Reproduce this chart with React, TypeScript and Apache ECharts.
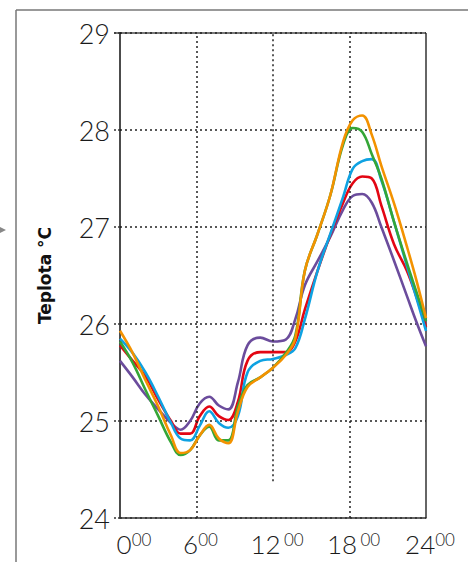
import { useEffect, useRef } from "react";
import * as echarts from "echarts";

// Hodina dne (0–24) a průběh teploty pro jednotlivá čidla
const hours = [0, 1, 2, 3, 4, 4.75, 5.5, 6.25, 7, 7.75, 8.5, 9.25, 10, 11, 12, 13, 13.75, 14.5, 15.5, 16.5, 17.5, 18.25, 19, 19.75, 20.5, 21.5, 22.5, 23.25, 24];

const sensorPurple = [25.62, 25.45, 25.27, 25.12, 24.98, 24.91, 25.0, 25.18, 25.25, 25.16, 25.12, 25.4, 25.78, 25.86, 25.82, 25.84, 26.05, 26.4, 26.65, 26.9, 27.18, 27.32, 27.34, 27.25, 27.0, 26.65, 26.29, 26.02, 25.77];
const sensorRed = [25.78, 25.62, 25.46, 25.22, 25.0, 24.87, 24.87, 25.05, 25.15, 25.05, 25.01, 25.2, 25.62, 25.71, 25.71, 25.71, 25.82, 26.15, 26.55, 26.92, 27.25, 27.45, 27.52, 27.5, 27.22, 26.82, 26.55, 26.28, 25.97];
const sensorBlue = [25.85, 25.7, 25.5, 25.25, 24.98, 24.82, 24.8, 24.95, 25.1, 24.98, 24.93, 25.05, 25.5, 25.62, 25.64, 25.68, 25.75, 26.05, 26.55, 26.93, 27.31, 27.6, 27.68, 27.7, 27.48, 27.05, 26.6, 26.27, 25.93];
const sensorGreen = [25.82, 25.6, 25.32, 25.05, 24.78, 24.65, 24.7, 24.85, 24.94, 24.8, 24.8, 25.15, 25.37, 25.45, 25.55, 25.7, 25.88, 26.55, 26.93, 27.33, 27.85, 28.02, 27.98, 27.75, 27.5, 27.05, 26.63, 26.33, 26.03];
const sensorOrange = [25.93, 25.7, 25.42, 25.15, 24.85, 24.67, 24.7, 24.85, 24.96, 24.82, 24.77, 25.1, 25.35, 25.45, 25.55, 25.68, 25.85, 26.55, 26.93, 27.33, 27.88, 28.1, 28.15, 27.95, 27.63, 27.24, 26.8, 26.45, 26.06];

const yMin = 24;
const yMax = 29;
const hourTicks = [0, 6, 12, 18, 24];

// Svislé tečkované čáry: [hodina, spodní konec]
const verticalGuides: [number, number][] = [
  [6, 24],
  [12, 24.38],
  [18, 24],
];

const seriesDefs = [
  { name: "Čidlo 5", color: "#6b4c9c", values: sensorPurple },
  { name: "Čidlo 4", color: "#e30613", values: sensorRed },
  { name: "Čidlo 3", color: "#0ea2e2", values: sensorBlue },
  { name: "Čidlo 2", color: "#35a637", values: sensorGreen },
  { name: "Čidlo 1", color: "#f39200", values: sensorOrange },
];

const FONT = "Lato, 'Open Sans', sans-serif";

export default function App() {
  const ref = useRef<HTMLDivElement>(null);

  useEffect(() => {
    if (!ref.current) return;
    const chart = echarts.init(ref.current, undefined, { renderer: "svg" });

    const series: any[] = seriesDefs.map((s, i) => ({
      name: s.name,
      type: "line",
      data: hours.map((h, k) => [h, s.values[k]]),
      smooth: 0.4,
      showSymbol: false,
      lineStyle: { color: s.color, width: 2.6 },
      z: 3 + i,
      ...(i === 0
        ? {
            markLine: {
              silent: true,
              symbol: "none",
              label: { show: false },
              lineStyle: { color: "#222", width: 1.5, type: [2, 3] },
              data: verticalGuides.map(([h, bottom]) => [
                { coord: [h, bottom] },
                { coord: [h, yMax] },
              ]),
            },
          }
        : {}),
    }));

    chart.setOption({
      animation: false,
      grid: { left: 120, top: 33, right: 42, bottom: 44 },
      xAxis: {
        type: "value",
        min: 0,
        max: 24,
        interval: 6,
        axisLine: { show: true, lineStyle: { color: "#333", width: 1.5 } },
        axisTick: { show: false },
        splitLine: { show: false },
        axisLabel: {
          margin: 13,
          formatter: (v: number) => {
            if (!hourTicks.includes(v)) return "";
            if (v === 0) return "{z|0}{s|00}";
            if (v === 12 || v === 18) return `{d|${v}} {s|00}`;
            return `{d|${v}}{s|00}`;
          },
          rich: {
            d: { fontFamily: FONT, fontWeight: 300, fontSize: 26, color: "#1a1a1a", lineHeight: 26, padding: [0, 0, 0, 8] },
            z: { fontFamily: FONT, fontWeight: 300, fontSize: 26, color: "#1a1a1a", lineHeight: 26, padding: [0, 0, 0, 28] },
            s: { fontFamily: FONT, fontWeight: 300, fontSize: 17, color: "#1a1a1a", lineHeight: 26, verticalAlign: "top", padding: [0, 0, 8, 0] },
          },
        },
      },
      yAxis: {
        type: "value",
        min: yMin,
        max: yMax,
        interval: 1,
        name: "Teplota °C",
        nameLocation: "middle",
        nameRotate: 90,
        nameGap: 67,
        nameTextStyle: { fontFamily: "'DejaVu Sans', sans-serif", fontWeight: "bold", fontSize: 17, color: "#111" },
        axisLine: { show: true, lineStyle: { color: "#111", width: 1.5 } },
        axisTick: { show: true, length: 6, lineStyle: { color: "#333", width: 1.5, type: [2, 2] } },
        splitLine: { show: true, lineStyle: { color: "#222", width: 1.5, type: [2, 3] } },
        axisLabel: { margin: 10, fontFamily: FONT, fontWeight: 300, fontSize: 27, color: "#1a1a1a" },
      },
      graphic: [
        // vnější rámeček
        { type: "line", shape: { x1: 16, y1: 10, x2: 16, y2: 562 }, style: { stroke: "#777", lineWidth: 1.5 }, silent: true },
        { type: "line", shape: { x1: 16, y1: 10, x2: 468, y2: 10 }, style: { stroke: "#777", lineWidth: 1.5 }, silent: true },
        // horní a pravý okraj grafu
        { type: "line", shape: { x1: 114, y1: 33, x2: 426, y2: 33 }, style: { stroke: "#777", lineWidth: 1.8 }, silent: true },
        { type: "line", shape: { x1: 426, y1: 33, x2: 426, y2: 518 }, style: { stroke: "#666", lineWidth: 2 }, silent: true },
        // malá šipka vlevo
        { type: "polygon", shape: { points: [[0, 227], [6, 230], [0, 233]] }, style: { fill: "#888" }, silent: true },
      ],
      series,
    });

    return () => chart.dispose();
  }, []);

  return (
    <div
      ref={ref}
      style={{ position: "fixed", left: 0, top: 0, width: 468, height: 562, background: "#fff" }}
    />
  );
}
